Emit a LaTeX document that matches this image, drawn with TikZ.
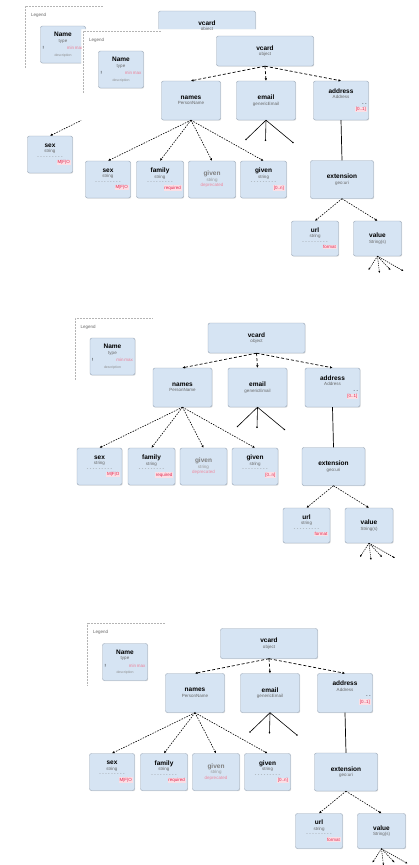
\documentclass[tikz,border=0pt]{standalone}
\usepackage{fontspec}
\setmainfont{Liberation Sans}
\usetikzlibrary{arrows.meta}
\usetikzlibrary{shadows}

\definecolor{boxfill}{RGB}{214,228,243}
\definecolor{boxline}{RGB}{150,164,180}
\definecolor{reqred}{RGB}{226,40,80}
\definecolor{legendline}{RGB}{180,180,180}

\newcommand{\boxname}[1]{{\fontsize{6.5}{8}\selectfont\bfseries #1}}
\newcommand{\boxtype}[1]{\textcolor{black!60}{#1}}
\newcommand{\boxrule}{\textcolor{black!55}{- - - - - - - - -}}
\newcommand{\boxreq}[1]{\hfill{\setlength{\fboxsep}{0.6pt}\colorbox{reqred!15}{\textcolor{reqred}{#1}}}}
\newcommand{\legendtext}{\boxname{Name}\\\boxtype{type}\\[2pt]!\hfill\textcolor{reqred!60}{min\,max}\\[1pt]{\fontsize{3.5}{4}\selectfont\textcolor{black!45}{description}}}
\newcommand{\sextext}{\boxname{sex}\\\boxtype{string}\\\boxrule\\\boxreq{M|F|O}}

\tikzset{
	box/.style={draw=boxline, fill=boxfill, rounded corners=2pt, align=center, inner sep=2pt,
		font=\fontsize{4.5}{5.5}\selectfont, text width=#1,
		drop shadow={opacity=0.25, shadow xshift=0.7pt, shadow yshift=-0.7pt}},
	link/.style={dash pattern=on 3pt off 2pt, line width=0.7pt, -{Latex[length=2.5pt,width=2.5pt]}},
	sublink/.style={dash pattern=on 1.5pt off 1.2pt, line width=0.6pt, -{Latex[length=2.5pt,width=2.5pt]}},
	stub/.style={line width=0.6pt, -{Circle[length=1.6pt]}},
	dotstub/.style={dash pattern=on 1.2pt off 1pt, line width=0.6pt, -{Latex[length=2pt,width=2pt]}},
	legendframe/.style={draw=legendline, densely dotted, line width=0.5pt},
	legendtitle/.style={font=\fontsize{4.5}{5}\selectfont, text=black!60, anchor=west},
	schema/.pic={
		\draw[legendframe] (79,0) -- (2,0) -- (2,62);
		\node[legendtitle] (-legendtitle) at (4,9) {Legend};
		\node[box=41, minimum height=37] (-legend) at (39.5,38.5) {\legendtext};
		\node[box=93, minimum height=30] (-root) at (183.5,20) {\boxname{vcard}\\\boxtype{object}};
		\node[box=55, minimum height=39] (-names) at (109.5,69.5) {\boxname{names}\\\boxtype{PersonName}};
		\node[box=55, minimum height=39] (-email) at (184.5,69.5) {\boxname{email}\\\boxtype{genericEmail}};
		\node[box=51, minimum height=39] (-address) at (259.5,69.5) {\boxname{address}\\\boxtype{Address}\\[1pt]\hfill- -\\\boxreq{[0..1]}};
		\node[box=41, minimum height=37] (-sex) at (26.5,148.5) {\sextext};
		\node[box=43, minimum height=37] (-family) at (78.5,148.5) {\boxname{family}\\\boxtype{string}\\\boxrule\\\boxreq{required}};
		\node[box=43, minimum height=37] (-given) at (130.5,148.5) {\textcolor{black!50}{\boxname{given}}\\\textcolor{black!40}{string}\\\textcolor{reqred!55}{deprecated}};
		\node[box=42, minimum height=37] (-given2) at (182,148.5) {\boxname{given}\\\boxtype{string}\\\boxrule\\\boxreq{[0..n]}};
		\node[box=59, minimum height=38] (-extension) at (260.5,148.5) {\boxname{extension}\\\boxtype{geo:uri}};
		\node[box=43, minimum height=35] (-url) at (233.5,207.5) {\boxname{url}\\\boxtype{string}\\\boxrule\\\boxreq{format}};
		\node[box=44, minimum height=35] (-value) at (296,207.5) {\boxname{value}\\\boxtype{String(s)}};
		% stub ends
		\coordinate (-e1) at (164,109);
		\coordinate (-e2) at (184,110);
		\coordinate (-e3) at (212,112);
		\coordinate (-v1) at (287,239);
		\coordinate (-v2) at (298,242);
		\coordinate (-v3) at (309,239);
		\coordinate (-v4) at (322,240);
		\draw[link] (-root.south) -- (-names.north);
		\draw[link] (-root.south) -- (-email.north);
		\draw[link] (-root.south) -- (-address.north);
		\foreach \c in {sex,family,given,given2}
			\draw[sublink] (-names.south) -- (-\c.north);
		\foreach \e in {e1,e2,e3}
			\draw[stub] (-email.south) -- (-\e);
		\draw[line width=0.7pt] (-address.south) -- (-extension.north);
		\draw[sublink] (-extension.south) -- (-url.north);
		\draw[sublink] (-extension.south) -- (-value.north);
		\foreach \v in {v1,v2,v3,v4}
			\draw[dotstub] (-value.south) -- (-\v);
	}
}

\begin{document}
\begin{tikzpicture}[x=1pt, y=-1pt]
	\useasboundingbox (0,0) rectangle (419,865);
	\fill[white] (0,0) rectangle (419,865);
	% older copy, seen only where the first one leaves room
	\begin{scope}
		\clip (0,0) -- (419,0) -- (419,29) -- (81,29) -- (81,292) -- (0,292) -- cycle;
		\begin{scope}[shift={(23.5,6)}]
			\draw[legendframe] (79,0) -- (2,0) -- (2,62);
			\node[legendtitle] (ghostlegendtitle) at (4,9) {Legend};
			\node[box=41, minimum height=37] (ghostlegend) at (39.5,38.5) {\legendtext};
			\node[box=93, minimum height=30] (ghostroot) at (183.5,20) {\boxname{vcard}\\\boxtype{object}};
			\node[box=41, minimum height=37] (ghostsex) at (26.5,148.5) {\sextext};
			\coordinate (ghostnames) at (109.5,89);
			\draw[sublink] (ghostnames) -- (ghostsex.north);
		\end{scope}
	\end{scope}
	\pic (top) at (81.5,31) {schema};
	\pic (middle) at (73,318) {schema};
	\pic (bottom) at (85.5,623.5) {schema};
\end{tikzpicture}
\end{document}
